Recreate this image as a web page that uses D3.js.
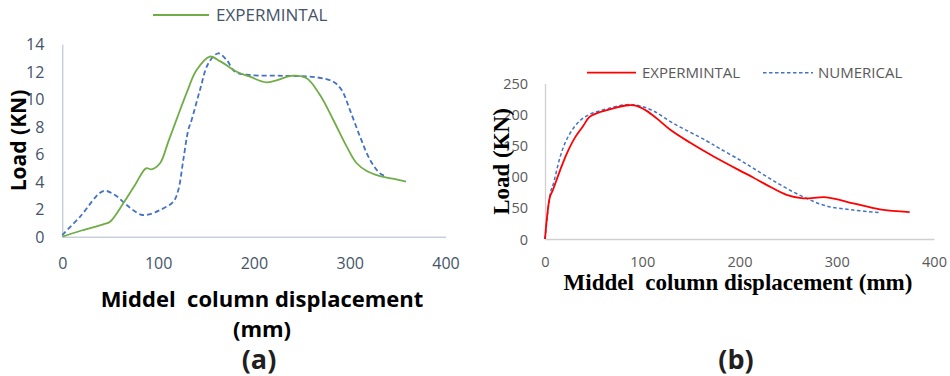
<!DOCTYPE html>
<html><head><meta charset="utf-8">
<script src="https://cdn.jsdelivr.net/npm/d3@7"></script>
<style>
html,body{margin:0;padding:0;background:#fff;}
svg{display:block;}
</style></head>
<body>
<svg id="c" width="950" height="376"></svg>
<script>
// ---- Chart (a) data ----
const aXTicks = [0, 100, 200, 300, 400];
const aYTicks = [0, 2, 4, 6, 8, 10, 12, 14];
const aExpX = [0, 20, 42.8, 49.8, 63.7, 75.9, 87.4, 93.3, 102, 110.6, 119.4, 130, 140, 154, 165, 182, 195.9, 213.4, 241.1, 255.1, 269, 282.9, 296.9, 307.3, 317.8, 331.6, 345, 358.8];
const aExpY = [0, 0.45, 0.9, 1.09, 2.43, 3.76, 4.97, 4.9, 5.34, 6.9, 8.55, 10.5, 12.1, 13.1, 12.75, 12.0, 11.64, 11.23, 11.71, 11.52, 10.3, 8.49, 6.55, 5.34, 4.78, 4.41, 4.22, 4.0];
const aNumX = [0, 18.5, 42.8, 55, 67.2, 81.1, 88, 102, 115.9, 121.1, 126.3, 131.5, 135, 143.7, 152.4, 162.8, 171.6, 180.3, 195.9, 230.7, 265.5, 282.9, 291.6, 300.3, 310.8, 321.3, 331.6, 338.6];
const aNumY = [0.12, 1.45, 3.32, 3.03, 2.3, 1.63, 1.58, 1.94, 2.55, 3.4, 5.58, 7.76, 8.49, 10.67, 12.6, 13.34, 12.85, 12.0, 11.76, 11.7, 11.59, 11.27, 10.67, 9.21, 7.27, 5.58, 4.61, 4.36];
const aLegend = ["EXPERMINTAL"];

// ---- Chart (b) data ----
const bXTicks = [0, 100, 200, 300, 400];
const bYTicks = [0, 50, 100, 150, 200, 250];
const bExpX = [0, 5.1, 7.9, 15.4, 22.3, 30.8, 39.4, 45.5, 53, 70.2, 85.6, 94.2, 104.5, 114.8, 128.5, 149, 173, 200.4, 214, 227.8, 248.4, 265.5, 289.5, 316.9, 344.3, 375];
const bExpY = [0, 68, 78, 110, 137, 163, 182, 196, 202, 210, 215, 214, 206, 194, 176, 155, 133, 110, 99, 87, 71, 65.3, 67, 57.3, 47.6, 43.3];
const bNumX = [0, 5.8, 8.5, 15.4, 22.3, 32.6, 42.9, 56.5, 84, 97.6, 111.3, 131.9, 166, 180, 200.4, 214, 231, 248.4, 269, 289.5, 316.9, 344.3];
const bNumY = [0, 76, 88, 131, 160, 185, 198, 206, 216, 214, 206, 186, 158, 145, 127, 114, 97.4, 81.4, 65.3, 53, 46.6, 42.4];
const bLegend = ["EXPERMINTAL", "NUMERICAL"];

const svg = d3.select("#c");
const zip = (xs, ys) => xs.map((x, i) => [x, ys[i]]);

// ================= Chart (a) =================
{
  const x = d3.scaleLinear().domain([0, 400]).range([62.3, 445.5]);
  const y = d3.scaleLinear().domain([0, 14]).range([236.7, 44.2]);
  const g = svg.append("g");
  const txt = "#44546A", axc = "#ADB9CA";
  const xa = g.append("g").attr("transform", `translate(0,${y(0)})`)
    .call(d3.axisBottom(x).tickValues(aXTicks).tickSize(0).tickPadding(0));
  xa.select(".domain").attr("stroke", axc).attr("stroke-width", 1);
  xa.selectAll("text").attr("y", 32).attr("dy", 0).attr("fill", txt)
    .style("font-family", "'Open Sans'").style("font-size", "16px");
  const ya = g.append("g").attr("transform", `translate(${x(0)},0)`)
    .call(d3.axisLeft(y).tickValues(aYTicks).tickSize(0).tickPadding(18));
  ya.select(".domain").attr("stroke", axc).attr("stroke-width", 1);
  ya.selectAll("text").attr("fill", txt).attr("dy", "0.35em")
    .style("font-family", "'Open Sans'").style("font-size", "16px");

  const line = d3.line().x(d => x(d[0])).y(d => y(d[1])).curve(d3.curveCatmullRom.alpha(0.5));
  g.append("path").datum(zip(aNumX, aNumY)).attr("d", line)
    .attr("fill", "none").attr("stroke", "#4472C4").attr("stroke-width", 1.8).attr("stroke-dasharray", "5,3");
  g.append("path").datum(zip(aExpX, aExpY)).attr("d", line)
    .attr("fill", "none").attr("stroke", "#70AD47").attr("stroke-width", 1.8);

  // legend
  g.append("line").attr("x1", 153).attr("x2", 209).attr("y1", 15).attr("y2", 15)
    .attr("stroke", "#70AD47").attr("stroke-width", 1.8);
  g.append("text").attr("x", 216).attr("y", 21).text(aLegend[0]).attr("fill", txt)
    .style("font-family", "'Open Sans'").style("font-size", "17px");

  // titles
  g.append("text").attr("transform", "translate(18,140.5) rotate(-90)")
    .attr("text-anchor", "middle").attr("dominant-baseline", "central")
    .text("Load (KN)").attr("fill", "#000")
    .style("font-family", "'Open Sans'").style("font-weight", "bold").style("font-size", "21px");
  g.append("text").attr("x", 262).attr("y", 307).attr("text-anchor", "middle")
    .text("Middel  column displacement").attr("fill", "#000")
    .style("white-space", "pre")
    .style("font-family", "'Open Sans'").style("font-weight", "bold").style("font-size", "22px");
  g.append("text").attr("x", 262).attr("y", 337).attr("text-anchor", "middle")
    .text("(mm)").attr("fill", "#000")
    .style("font-family", "'Open Sans'").style("font-weight", "bold").style("font-size", "22px");
  g.append("text").attr("x", 259).attr("y", 369).attr("text-anchor", "middle")
    .text("(a)").attr("fill", "#231F20")
    .style("font-family", "'Open Sans'").style("font-weight", "bold").style("font-size", "27px");
}

// ================= Chart (b) =================
{
  const x = d3.scaleLinear().domain([0, 400]).range([545, 934]);
  const y = d3.scaleLinear().domain([0, 250]).range([239, 83.5]);
  const g = svg.append("g");
  const txt = "#595959", axc = "#D0D0D0";
  const xa = g.append("g").attr("transform", `translate(0,${y(0)})`)
    .call(d3.axisBottom(x).tickValues(bXTicks).tickSize(0).tickPadding(0));
  xa.select(".domain").attr("stroke", axc).attr("stroke-width", 1.3);
  xa.selectAll("text").attr("y", 28).attr("dy", 0).attr("fill", txt)
    .style("font-family", "'Open Sans'").style("font-size", "14.5px");
  const ya = g.append("g").attr("transform", `translate(${x(0)},0)`)
    .call(d3.axisLeft(y).tickValues(bYTicks).tickSize(0).tickPadding(17));
  ya.select(".domain").attr("stroke", axc).attr("stroke-width", 1.3);
  ya.selectAll("text").attr("fill", txt).attr("dy", "0.35em")
    .style("font-family", "'Open Sans'").style("font-size", "14.5px");

  const line = d3.line().x(d => x(d[0])).y(d => y(d[1])).curve(d3.curveCatmullRom.alpha(0.5));
  g.append("path").datum(zip(bNumX, bNumY)).attr("d", line)
    .attr("fill", "none").attr("stroke", "#4472C4").attr("stroke-width", 1.5).attr("stroke-dasharray", "3.5,2.5");
  g.append("path").datum(zip(bExpX, bExpY)).attr("d", line)
    .attr("fill", "none").attr("stroke", "#FF0000").attr("stroke-width", 1.8);

  // legend
  g.append("line").attr("x1", 587).attr("x2", 636).attr("y1", 72.7).attr("y2", 72.7)
    .attr("stroke", "#FF0000").attr("stroke-width", 1.8);
  g.append("text").attr("x", 642).attr("y", 78).text(bLegend[0]).attr("fill", txt)
    .style("font-family", "'Open Sans'").style("font-size", "15px");
  g.append("line").attr("x1", 763).attr("x2", 813).attr("y1", 72.7).attr("y2", 72.7)
    .attr("stroke", "#4472C4").attr("stroke-width", 1.5).attr("stroke-dasharray", "3.5,2.5");
  g.append("text").attr("x", 818).attr("y", 78).text(bLegend[1]).attr("fill", txt)
    .style("font-family", "'Open Sans'").style("font-size", "15px");

  // titles
  g.append("text").attr("transform", "translate(501,161.5) rotate(-90)")
    .attr("text-anchor", "middle").attr("dominant-baseline", "central")
    .text("Load (KN)").attr("fill", "#000")
    .style("font-family", "'Liberation Serif'").style("font-weight", "bold").style("font-size", "23px");
  g.append("text").attr("x", 738).attr("y", 290).attr("text-anchor", "middle")
    .text("Middel  column displacement (mm)").attr("fill", "#000")
    .style("white-space", "pre")
    .style("font-family", "'Liberation Serif'").style("font-weight", "bold").style("font-size", "23px");
  g.append("text").attr("x", 736).attr("y", 369).attr("text-anchor", "middle")
    .text("(b)").attr("fill", "#231F20")
    .style("font-family", "'Open Sans'").style("font-weight", "bold").style("font-size", "27px");
}
</script>
</body></html>
